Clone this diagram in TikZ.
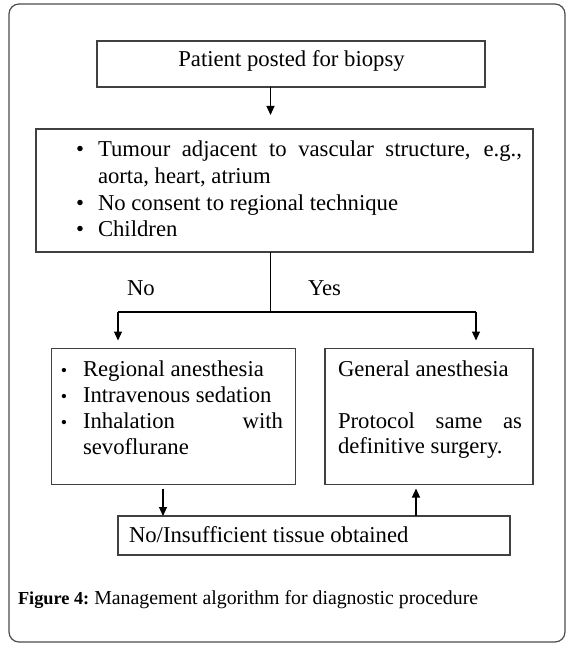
\documentclass[tikz,border=0pt]{standalone}
\usepackage{fontspec}
\setmainfont{Liberation Serif}
\usetikzlibrary{arrows.meta}
\begin{document}
\begin{tikzpicture}[x=1pt,y=-1pt,
  box/.style={draw=black!75,line width=1.2pt,inner sep=0pt,outer sep=0pt,rectangle},
  txt/.style={inner sep=0pt,outer sep=0pt,anchor=base west,font=\fontsize{22.7}{26}\selectfont},
  bul/.style={inner sep=0pt,outer sep=0pt,anchor=base,font=\fontsize{22.7}{26}\selectfont},
  sbul/.style={inner sep=0pt,outer sep=0pt,anchor=base,font=\fontsize{18}{20}\selectfont},
  arr/.style={draw=black,line width=1.1pt,-{Triangle[width=8pt,length=9pt]}}]
\useasboundingbox (0,0) rectangle (574,650);
% outer frame
\draw[black!70,line width=1.2pt,rounded corners=10pt] (9,4) rectangle (565,642);
% boxes
\node[box,minimum width=388pt,minimum height=46pt] (top) at (291,64) {};
\node[box,minimum width=497pt,minimum height=123pt] (mid) at (284.5,190.5) {};
\node[box,minimum width=244pt,minimum height=136pt] (left) at (173.5,416.5) {};
\node[box,minimum width=208pt,minimum height=136pt] (right) at (429,416.5) {};
\node[box,minimum width=392pt,minimum height=39pt] (bot) at (314,535.5) {};
% texts
\node[bul] (ttop) at (291.5,67) {Patient posted for biopsy};
\node[bul] (b1) at (80,157) {\textbullet};
\node[txt] (m1) at (98,157) {\makebox[424pt][s]{Tumour adjacent to vascular structure, e.g.,}};
\node[txt] (m2) at (98,183) {aorta, heart, atrium};
\node[bul] (b2) at (80,210) {\textbullet};
\node[txt] (m3) at (98,210) {No consent to regional technique};
\node[bul] (b3) at (80,236) {\textbullet};
\node[txt] (m4) at (98,236) {Children};
\node[txt] (no) at (127,295) {No};
\node[txt] (yes) at (308,295) {Yes};
\node[sbul] (lb1) at (64,376) {\textbullet};
\node[txt] (l1) at (83,376) {Regional anesthesia};
\node[sbul] (lb2) at (64,402) {\textbullet};
\node[txt] (l2) at (83,402) {Intravenous sedation};
\node[sbul] (lb3) at (64,428) {\textbullet};
\node[txt] (l3) at (83,428) {\makebox[200pt][s]{Inhalation with}};
\node[txt] (l4) at (83,454) {sevoflurane};
\node[txt] (r1) at (338,376) {General anesthesia};
\node[txt] (r2) at (338,428) {\makebox[184pt][s]{Protocol same as}};
\node[txt] (r3) at (338,453) {definitive surgery.};
\node[txt] (tbot) at (129,542) {No/Insufficient tissue obtained};
\node[txt,font=\fontsize{19.8}{23}\selectfont] (cap) at (18,604) {{\fontsize{18.3}{23}\selectfont\bfseries Figure 4:}\hspace{5pt}Management algorithm for diagnostic procedure};
% connectors
\coordinate (split) at (270.5,312);
\coordinate (lsplit) at (118,312);
\coordinate (rsplit) at (476,312);
\draw[arr,shorten >=14pt] (top.south -| split) -- (mid.north -| split);
\draw[draw=black,line width=1.1pt] (mid.south -| split) -- (split);
\draw[draw=black,line width=1.1pt] (lsplit) -- (rsplit);
\draw[arr,shorten >=8pt] (lsplit) -- (left.north -| lsplit);
\draw[arr,shorten >=8pt] (rsplit) -- (right.north -| rsplit);
\coordinate (dn) at (163,500);
\coordinate (up) at (416,500);
\draw[arr,shorten <=4pt] (left.south -| dn) -- (bot.north -| dn);
\draw[arr,shorten >=4pt] (bot.north -| up) -- (right.south -| up);
\end{tikzpicture}
\end{document}
